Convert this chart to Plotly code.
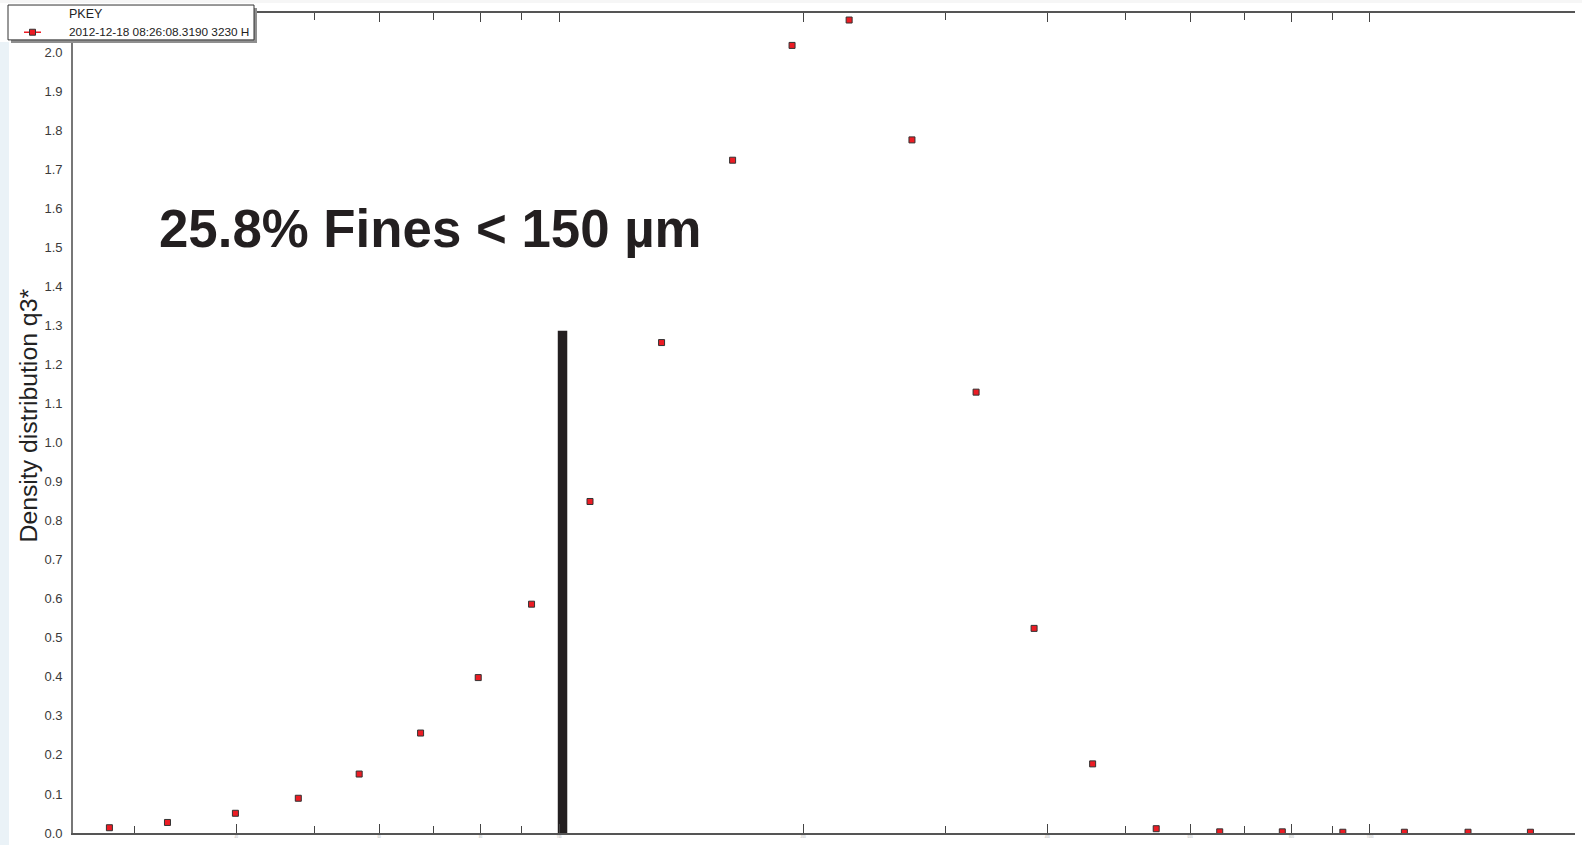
import plotly.graph_objects as go

# ---- data ----
sizes_um = [27.9, 32.9, 39.9, 47.7, 56.7, 67.5, 79.5, 92.5, 109.2, 133.8, 163.7, 193.8,
            227.9, 272.4, 326.8, 385.3, 455.0, 545.0, 652.7, 779.6, 925.8, 1102.6, 1320.9, 1577.0]
q3_density = [0.0135, 0.027, 0.0505, 0.089, 0.151, 0.256, 0.398, 0.586, 0.849, 1.256, 1.723, 2.017,
              2.082, 1.775, 1.129, 0.524, 0.177, 0.011, 0.003, 0.003, 0.002, 0.002, 0.002, 0.002]
series_name = "2012-12-18 08:26:08.3190 3230 H"
legend_title = "PKEY"
annotation_text = "25.8% Fines < 150 µm"
y_title = "Density distribution q3*"
fines_line_x = [101, 101]
fines_line_y = [0, 1.286]
x_major_ticks = [40, 60, 80, 100, 200, 400, 600, 800, 1000]
x_minor_ticks = [30, 50, 70, 90, 300, 500, 700, 900]
y_label_ticks = [0.0, 0.1, 0.2, 0.3, 0.4, 0.5, 0.6, 0.7, 0.8, 0.9, 1.0,
                 1.1, 1.2, 1.3, 1.4, 1.5, 1.6, 1.7, 1.8, 1.9, 2.0]
y_minor_ticks = [0.05, 0.15, 0.25, 0.35, 0.45, 0.55, 0.65, 0.75, 0.85, 0.95, 1.05,
                 1.15, 1.25, 1.35, 1.45, 1.55, 1.65, 1.75, 1.85, 1.95, 2.05]

# ---- layout geometry (pixels) ----
W, H = 1582, 848
L, R, T, B = 73, 1575, 13, 836
PW, PH = R - L, B - T


def px(x):
    return (x - L) / PW


def py(y):
    return (B - y) / PH


RED = "#ec1c24"
DARK = "#231f20"

fig = go.Figure()

fig.add_trace(go.Scatter(
    x=sizes_um, y=q3_density, mode="markers", name=series_name,
    marker=dict(symbol="square", size=6, color=RED, line=dict(color="#333333", width=1)),
    showlegend=False,
))

fig.add_trace(go.Scatter(
    x=fines_line_x, y=fines_line_y, mode="lines",
    line=dict(color=DARK, width=9.5), showlegend=False, hoverinfo="skip",
))

shapes = []
# left light-blue strip
shapes.append(dict(type="rect", xref="paper", yref="paper", x0=px(0), x1=px(9), y0=py(H), y1=py(42),
                   fillcolor="#eaf2f7", line=dict(width=0), layer="below"))
# top light-gray strip
shapes.append(dict(type="rect", xref="paper", yref="paper", x0=px(0), x1=px(W), y0=py(3), y1=py(0),
                   fillcolor="#f6f6f6", line=dict(width=0), layer="below"))
# legend shadow + box
shapes.append(dict(type="rect", xref="paper", yref="paper", x0=px(11), x1=px(257), y0=py(43), y1=py(8),
                   fillcolor="#8f8f8f", line=dict(width=0), layer="above"))
shapes.append(dict(type="rect", xref="paper", yref="paper", x0=px(8), x1=px(254), y0=py(40), y1=py(5),
                   fillcolor="white", line=dict(color="#333333", width=1), layer="above"))
# legend glyph
shapes.append(dict(type="line", xref="paper", yref="paper", x0=px(24), x1=px(41), y0=py(32.3), y1=py(32.3),
                   line=dict(color=RED, width=1.5), layer="above"))
shapes.append(dict(type="rect", xref="paper", yref="paper", x0=px(29.5), x1=px(35.5), y0=py(35.3), y1=py(29.3),
                   fillcolor=RED, line=dict(color="#333333", width=1), layer="above"))

annotations = [
    dict(text=legend_title, xref="paper", yref="paper", x=px(67), y=py(14), xanchor="left", yanchor="middle",
         showarrow=False, font=dict(family="Liberation Sans, Arial", size=12.5, color="#222222")),
    dict(text=series_name, xref="paper", yref="paper", x=px(67), y=py(32.5), xanchor="left", yanchor="middle",
         showarrow=False, font=dict(family="Liberation Sans, Arial", size=11.8, color="#222222")),
    dict(text="<b>" + annotation_text + "</b>", xref="paper", yref="paper", x=px(157), y=py(229),
         xanchor="left", yanchor="middle", showarrow=False,
         font=dict(family="Liberation Sans, Arial", size=52.8, color=DARK)),
    dict(text=y_title, xref="paper", yref="paper", x=px(29), y=py(417), textangle=-90,
         xanchor="center", yanchor="middle", showarrow=False,
         font=dict(family="Liberation Sans, Arial", size=24.8, color="#222222")),
]

fig.update_layout(
    width=W, height=H,
    margin=dict(l=L, r=W - R, t=T, b=H - B, pad=0),
    paper_bgcolor="white", plot_bgcolor="white",
    showlegend=False,
    shapes=shapes, annotations=annotations,
    xaxis=dict(
        type="log", range=[1.4007, 3.2528],
        showgrid=False, zeroline=False,
        showline=True, linecolor="#555555", linewidth=1.5, mirror="allticks",
        ticks="inside", ticklen=9, tickwidth=1.3, tickcolor="#444444",
        tickvals=x_major_ticks, ticktext=[str(v) for v in x_major_ticks],
        tickfont=dict(size=3, color="#aaaaaa"),
        minor=dict(tickvals=x_minor_ticks, ticks="inside", ticklen=7, tickwidth=1.3, tickcolor="#444444"),
    ),
    yaxis=dict(
        range=[0, 2.1], showgrid=False, zeroline=False,
        showline=True, linecolor="#777777", linewidth=1.8,
        ticks="", tickvals=y_label_ticks, ticktext=[f"{v:.1f}" for v in y_label_ticks],
        tickfont=dict(family="Liberation Sans, Arial", size=13, color="#3a3a3a"),
        ticklabelstandoff=6,
    ),
    yaxis2=dict(
        overlaying="y", side="right", range=[0, 2.1], showgrid=False, zeroline=False,
        showline=True, linecolor="#777777", linewidth=1.5,
        ticks="inside", ticklen=10, tickwidth=1.3, tickcolor="#444444",
        tickvals=y_label_ticks, showticklabels=False,
        minor=dict(tickvals=y_minor_ticks, ticks="inside", ticklen=7, tickwidth=1.3, tickcolor="#444444"),
    ),
)

fig.write_html("out.html")
